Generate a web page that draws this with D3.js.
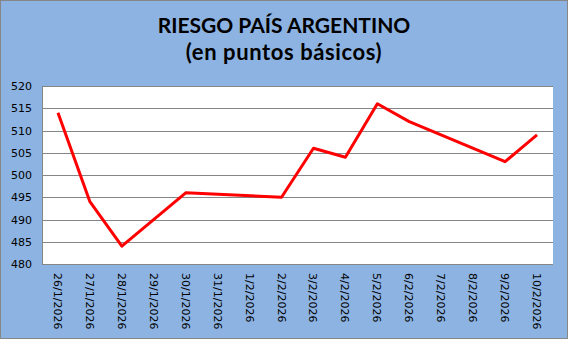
<!DOCTYPE html>
<html>
<head>
<meta charset="utf-8">
<script src="https://cdn.jsdelivr.net/npm/d3@7"></script>
<style>
  body { margin: 0; background: #fff; }
  svg { display: block; }
</style>
</head>
<body>
<svg width="568" height="339"></svg>
<script>
// fechas (eje de categorías) y valores en puntos básicos; null = sin dato
const fechas = ['26/1/2026', '27/1/2026', '28/1/2026', '29/1/2026', '30/1/2026', '31/1/2026',
  '1/2/2026', '2/2/2026', '3/2/2026', '4/2/2026', '5/2/2026', '6/2/2026',
  '7/2/2026', '8/2/2026', '9/2/2026', '10/2/2026'];
const riesgo = [514, 494, 484, null, 496, null, null, 495, 506, 504, 516, 512, null, null, 503, 509];
const yTicks = [480, 485, 490, 495, 500, 505, 510, 515, 520];

const W = 568, H = 339;
const pLeft = 42, pRight = 553, pTop = 86, pBottom = 264;

const svg = d3.select('svg');

svg.append('rect')
  .attr('x', 0.5).attr('y', 0.5)
  .attr('width', W - 1).attr('height', H - 1)
  .attr('fill', '#8db3e2')
  .attr('stroke', '#868686');

svg.append('rect')
  .attr('x', pLeft).attr('y', pTop)
  .attr('width', pRight - pLeft).attr('height', pBottom - pTop)
  .attr('fill', '#fff');

const x = d3.scaleBand().domain(fechas).range([pLeft, pRight]);
const y = d3.scaleLinear().domain([480, 520]).range([pBottom, pTop]);

// grid lines
svg.append('g')
  .selectAll('line')
  .data(yTicks)
  .enter()
  .append('line')
  .attr('x1', pLeft).attr('x2', pRight)
  .attr('y1', d => Math.round(y(d)) + 0.5)
  .attr('y2', d => Math.round(y(d)) + 0.5)
  .attr('stroke', '#868686')
  .attr('stroke-width', 1);

// eje y
const yAxis = svg.append('g')
  .attr('transform', `translate(${pLeft - 10}, 0)`)
  .call(d3.axisLeft(y).tickValues(yTicks).tickSize(0).tickPadding(0));
yAxis.select('.domain').remove();
yAxis.selectAll('text')
  .attr('font-family', 'DejaVu Sans')
  .attr('font-size', '11px')
  .attr('fill', '#000');

// eje x
const xAxis = svg.append('g')
  .attr('transform', `translate(0, ${pBottom})`)
  .call(d3.axisBottom(x).tickSize(0));
xAxis.select('.domain').remove();
xAxis.selectAll('text')
  .attr('font-family', 'DejaVu Sans')
  .attr('font-size', '11px')
  .attr('fill', '#000')
  .attr('text-anchor', 'start')
  .attr('dy', null)
  .attr('y', 0)
  .attr('transform', 'translate(-4, 9) rotate(90)');

// bordes del área de trazado
svg.append('line')
  .attr('x1', pLeft + 0.5).attr('x2', pLeft + 0.5)
  .attr('y1', pTop).attr('y2', pBottom + 1)
  .attr('stroke', '#868686');
svg.append('line')
  .attr('x1', pLeft).attr('x2', pRight)
  .attr('y1', pBottom + 0.5).attr('y2', pBottom + 0.5)
  .attr('stroke', '#868686');

// serie
const puntos = fechas.map((f, i) => ({ f: f, v: riesgo[i] })).filter(d => d.v != null);
const line = d3.line()
  .x(d => x(d.f) + x.bandwidth() / 2)
  .y(d => y(d.v));

svg.append('path')
  .datum(puntos)
  .attr('d', line)
  .attr('fill', 'none')
  .attr('stroke', '#ff0000')
  .attr('stroke-width', 3)
  .attr('stroke-linejoin', 'round');

// título
svg.append('text')
  .attr('x', 284).attr('y', 33)
  .attr('text-anchor', 'middle')
  .attr('font-family', 'Lato')
  .attr('font-weight', 'bold')
  .attr('font-size', '21px')
  .text('RIESGO PAÍS ARGENTINO');
svg.append('text')
  .attr('x', 284).attr('y', 60)
  .attr('text-anchor', 'middle')
  .attr('font-family', 'Lato')
  .attr('font-weight', 'bold')
  .attr('font-size', '22px')
  .attr('letter-spacing', '0.6px')
  .text('(en puntos básicos)');
</script>
</body>
</html>
